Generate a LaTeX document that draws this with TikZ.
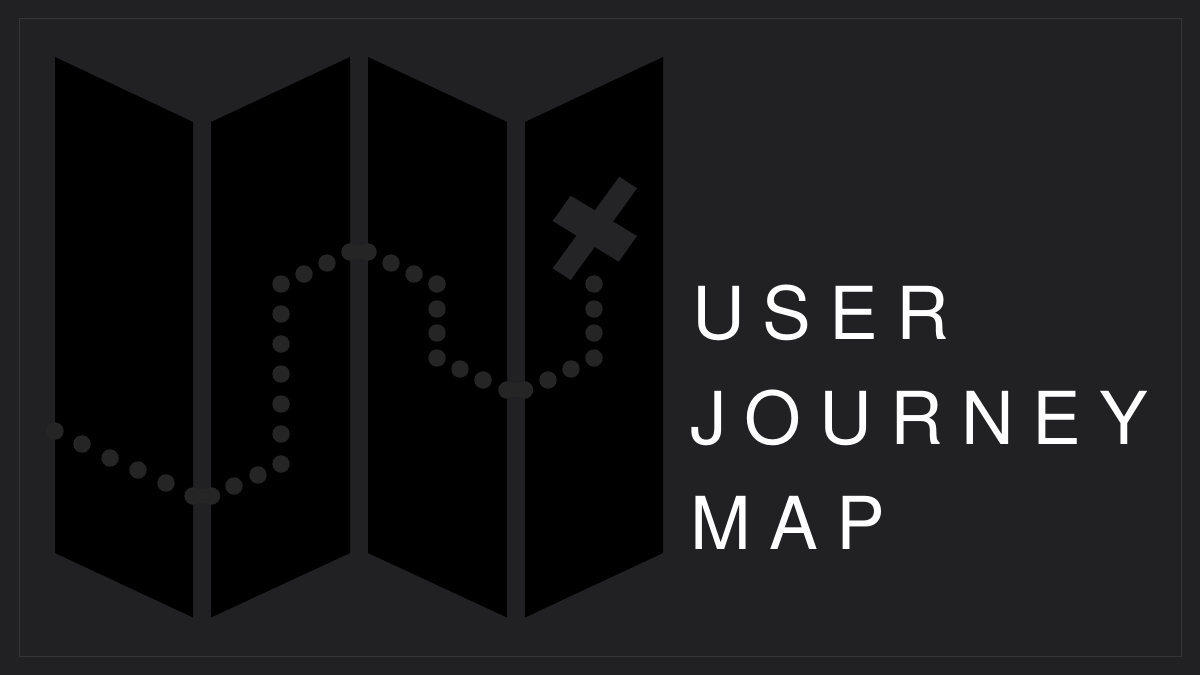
\documentclass[tikz,border=0pt]{standalone}
\usepackage{fontspec}
\setmainfont{TeX Gyre Heros}
\newfontfamily\titlefont[LetterSpace=25]{TeX Gyre Heros}
\definecolor{bgc}{HTML}{212123}
\definecolor{framec}{HTML}{353537}
\definecolor{dotc}{HTML}{252526}
\definecolor{crossc}{HTML}{242426}
\tikzset{
  panel/.style={fill=black,draw=none},
  crossbar/.style={fill=crossc,draw=none},
  pathdot/.style={fill=dotc,draw=none},
  titleline/.style={text=white,anchor=base west,inner sep=0pt,outer sep=0pt,font=\titlefont\fontsize{73}{73}\selectfont}
}
\begin{document}
\begin{tikzpicture}[x=1pt,y=-1pt]
\useasboundingbox (0,0) rectangle (1200,675);
\fill[bgc] (0,0) rectangle (1200,675);
\draw[framec,line width=0.9pt] (19,18.5) rectangle (1181,656.5);
% map panels
\fill[panel] (55,57) -- (193,122) -- (193,617.5) -- (55,553) -- cycle;
\fill[panel] (211,122) -- (350,57) -- (350,553) -- (211,617.5) -- cycle;
\fill[panel] (368,57) -- (507,122) -- (507,617.5) -- (368,553) -- cycle;
\fill[panel] (525,122) -- (663,57) -- (663,553) -- (525,617.5) -- cycle;
% dotted route
\foreach \px/\py in {55/431,82/444,110/458,138/470,166/483,193/496,211.5/496,234/486,258/475,
  281/464,281/434,281/404,281/374,281/344,281/314,281/284,304/274,327/263,350/252,368/252,
  391/263,414/274,437/284,437/309,437/333,437/358,460/369,483/380,507/390,524.5/390,548/380,
  571/369,594/358,594/333,594/309,594/284}
  \fill[pathdot] (\px,\py) circle (8.7);
% bridges where a dot pair crosses a fold
\foreach \qa/\qb/\qy in {193/211.5/496,350/368/252,507/524.5/390}
  \fill[pathdot] (\qa,\qy-7) rectangle (\qb,\qy+7);
% cross
\fill[crossbar] (619.3,176.7) -- (637,188.3) -- (570.7,280) -- (552.7,268.3) -- cycle;
\fill[crossbar] (570.7,195.7) -- (637,236) -- (618.7,261.7) -- (552.7,221) -- cycle;
% title
\node[titleline] (t1) at (692,339) {USER};
\node[titleline] (t2) at (690,444) {JOURNEY};
\node[titleline] (t3) at (690,549) {MAP};
\end{tikzpicture}
\end{document}
